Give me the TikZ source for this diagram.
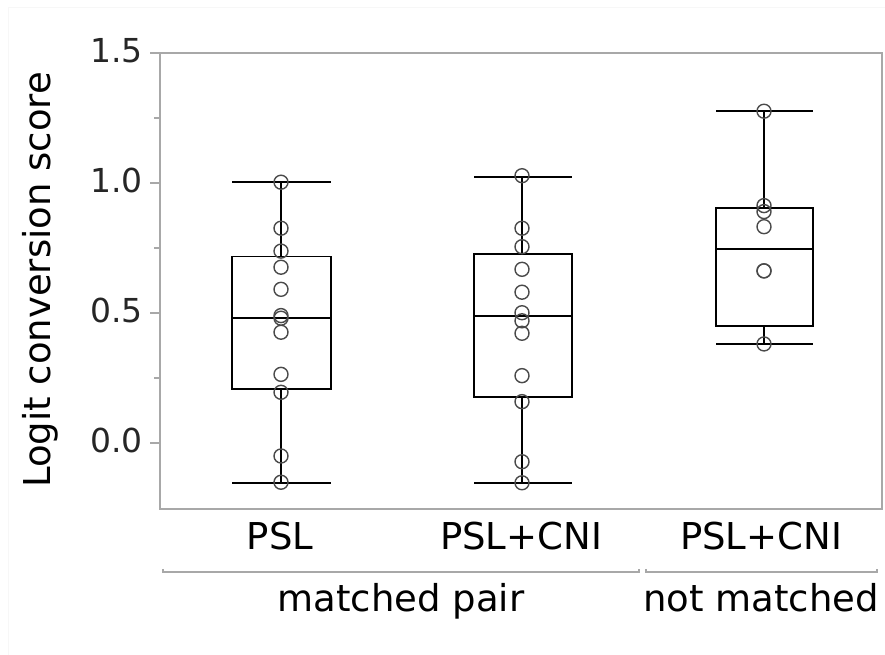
\documentclass[tikz,border=0pt]{standalone}
\usepackage{fontspec}
\setmainfont{DejaVu Sans}
\definecolor{framegray}{HTML}{A8A8A8}
\definecolor{ptgray}{HTML}{4A4A4A}

\begin{document}
\begin{tikzpicture}[x=1pt, y=1pt,
  every node/.style={inner sep=0pt},
  pt/.style={circle, draw=ptgray, line width=1.4pt, minimum size=14pt},
  boxline/.style={draw=black, line width=1.8pt},
  ticklabel/.style={font=\fontsize{33}{33}\selectfont, text=black!85, anchor=east},
  grplabel/.style={font=\fontsize{37}{37}\selectfont, anchor=base}]
  \useasboundingbox (0,0) rectangle (885,655);
  \draw[gray!6, line width=1pt] (8,0) -- (8,647) -- (885,647);

  % frame and labels
  \draw[framegray, line width=1.6pt] (160,146) rectangle (882,602);
  \node[grplabel, rotate=90] (ylab) at (50,375) {Logit conversion score};
  \node[grplabel] (psl) at (280,105) {PSL};
  \node[grplabel] (pslcni) at (521,105) {PSL+CNI};
  \node[grplabel] (pslcni2) at (761,105) {PSL+CNI};
  \draw[framegray, line width=1.2pt] (163,86) -- (163,83) -- (639,83) -- (639,86);
  \draw[framegray, line width=1.2pt] (646,86) -- (646,83) -- (877,83) -- (877,86);
  \node[grplabel] (matched) at (401,43) {matched pair};
  \node[grplabel] (notmatched) at (761,43) {not matched};

  \begin{scope}[shift={(0,212)}, y=260pt]
    % axis ticks
    \foreach \v/\t in {0/0.0, 0.5/0.5, 1/1.0, 1.5/1.5} {
      \draw[framegray, line width=1.2pt] (150,\v) -- (160,\v);
      \node[ticklabel] (tick\t) at (143,\v+0.008) {\t};
    }
    \foreach \v in {0.25, 0.75, 1.25}
      \draw[framegray, line width=1.2pt] (154,\v) -- (160,\v);

    % PSL, matched pair
    \draw[boxline] (232,0.208) rectangle (331,0.717);
    \draw[boxline] (232,0.480) -- (331,0.480);
    \draw[boxline] (232,-0.155) -- (331,-0.155);
    \draw[boxline] (232,1.003) -- (331,1.003);
    \draw[boxline] (281,-0.155) -- (281,0.208);
    \draw[boxline] (281,0.717) -- (281,1.003);
    \foreach \v [count=\i] in {1.003, 0.826, 0.738, 0.676, 0.591, 0.490, 0.480, 0.426, 0.264, 0.195, -0.050, -0.151}
      \node[pt] (a\i) at (281,\v) {};

    % PSL+CNI, matched pair
    \draw[boxline] (474,0.178) rectangle (572,0.728);
    \draw[boxline] (474,0.488) -- (572,0.488);
    \draw[boxline] (474,-0.155) -- (572,-0.155);
    \draw[boxline] (474,1.024) -- (572,1.024);
    \draw[boxline] (522,-0.155) -- (522,0.178);
    \draw[boxline] (522,0.728) -- (522,1.024);
    \foreach \v [count=\i] in {1.028, 0.826, 0.755, 0.668, 0.580, 0.501, 0.470, 0.422, 0.259, 0.159, -0.072, -0.153}
      \node[pt] (b\i) at (522,\v) {};

    % PSL+CNI, not matched
    \draw[boxline] (716,0.451) rectangle (813,0.905);
    \draw[boxline] (716,0.745) -- (813,0.745);
    \draw[boxline] (716,0.381) -- (813,0.381);
    \draw[boxline] (716,1.276) -- (813,1.276);
    \draw[boxline] (764,0.381) -- (764,0.451);
    \draw[boxline] (764,0.905) -- (764,1.276);
    \foreach \v [count=\i] in {1.276, 0.913, 0.890, 0.832, 0.662, 0.662, 0.381}
      \node[pt] (c\i) at (764,\v) {};
  \end{scope}
\end{tikzpicture}
\end{document}
